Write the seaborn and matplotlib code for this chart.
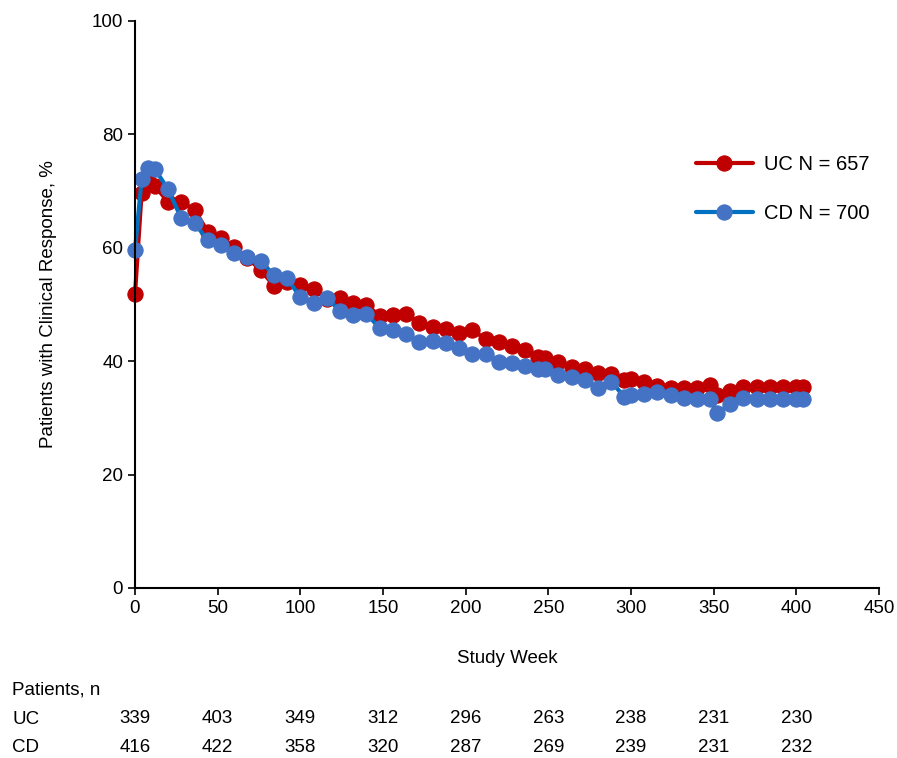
import numpy as np
import pandas as pd
import matplotlib
matplotlib.use("Agg")
import matplotlib.pyplot as plt
import seaborn as sns

# --- data ---
weeks_uc = [0, 4, 8, 12, 20, 28, 36, 44, 52, 60, 68, 76, 84, 92, 100, 108, 116,
            124, 132, 140, 148, 156, 164, 172, 180, 188, 196, 204, 212, 220, 228,
            236, 244, 248, 256, 264, 272, 280, 288, 296, 300, 308, 316, 324, 332,
            340, 348, 352, 360, 368, 376, 384, 392, 400, 404]
uc_pct = [51.8, 69.7, 71.8, 70.9, 68.1, 68.1, 66.7, 62.8, 61.7, 60.2, 58.2, 56.1,
          53.3, 54.0, 53.4, 52.7, 51.0, 51.1, 50.2, 49.9, 48.0, 48.1, 48.3, 46.8,
          46.0, 45.6, 44.9, 45.5, 43.9, 43.4, 42.6, 42.0, 40.8, 40.5, 39.9, 38.9,
          38.6, 38.0, 37.7, 36.6, 36.8, 36.4, 35.6, 35.2, 35.2, 35.2, 35.8, 34.0,
          34.8, 35.5, 35.5, 35.5, 35.5, 35.5, 35.5]

weeks_cd = [0, 4, 8, 12, 20, 28, 36, 44, 52, 60, 68, 76, 84, 92, 100, 108, 116,
            124, 132, 140, 148, 156, 164, 172, 180, 188, 196, 204, 212, 220, 228,
            236, 244, 248, 256, 264, 272, 280, 288, 296, 300, 308, 316, 324, 332,
            340, 348, 352, 360, 368, 376, 384, 392, 400, 404]
cd_pct = [59.6, 72.1, 74.0, 73.9, 70.3, 65.2, 64.4, 61.3, 60.5, 59.0, 58.3, 57.6,
          55.2, 54.6, 51.3, 50.3, 51.2, 48.9, 48.1, 48.4, 45.8, 45.5, 44.8, 43.3,
          43.5, 43.2, 42.3, 41.3, 41.3, 39.9, 39.6, 39.2, 38.7, 38.7, 37.6, 37.2,
          36.6, 35.2, 36.4, 33.7, 34.1, 34.3, 34.6, 34.0, 33.5, 33.3, 33.3, 30.8,
          32.5, 33.5, 33.3, 33.3, 33.3, 33.3, 33.3]

risk_weeks = [0, 50, 100, 150, 200, 250, 300, 350, 400]
uc_n = [339, 403, 349, 312, 296, 263, 238, 231, 230]
cd_n = [416, 422, 358, 320, 287, 269, 239, 231, 232]

uc_df = pd.DataFrame({"week": weeks_uc, "pct": uc_pct})
cd_df = pd.DataFrame({"week": weeks_cd, "pct": cd_pct})

# --- style ---
sns.set_style("ticks")
plt.rcParams["font.family"] = ["Liberation Sans", "DejaVu Sans"]
plt.rcParams["text.color"] = "black"
plt.rcParams["axes.labelcolor"] = "black"
plt.rcParams["xtick.color"] = "black"
plt.rcParams["ytick.color"] = "black"
FS = 13.5

fig = plt.figure(figsize=(8.97, 7.58), dpi=100)
ax = fig.add_axes([0.1505, 0.2243, 0.8295, 0.748])

sns.lineplot(data=uc_df, x="week", y="pct", ax=ax, color="#C00000", lw=3,
             marker="o", markersize=11, markerfacecolor="#C00000",
             markeredgecolor="#C00000", label="UC N = 657", clip_on=False)
sns.lineplot(data=cd_df, x="week", y="pct", ax=ax, color="#0070C0", lw=3,
             marker="o", markersize=11, markerfacecolor="#4472C4",
             markeredgecolor="#4472C4", label="CD N = 700", clip_on=False)

ax.set_xlim(0, 450)
ax.set_ylim(0, 100)
ax.set_xticks(range(0, 451, 50))
ax.set_yticks(range(0, 101, 20))
ax.tick_params(labelsize=FS, width=1.2, length=5, color="black")
for s in ["left", "bottom"]:
    ax.spines[s].set_color("black")
    ax.spines[s].set_linewidth(1.5)
sns.despine(ax=ax)
ax.set_xlabel("Study Week", fontsize=FS, labelpad=24)
ax.set_ylabel("Patients with Clinical Response, %", fontsize=FS, labelpad=25)

leg = ax.legend(loc="upper left", bbox_to_anchor=(0.73, 0.795), frameon=False,
                fontsize=FS + 1, handlelength=2.8, labelspacing=1.45,
                handletextpad=0.55)

# --- patients at risk table ---
tr = ax.get_xaxis_transform()
fig.text(12 / 897, 1 - 690 / 758, "Patients, n", fontsize=FS, va="center")
fig.text(12 / 897, 1 - 719 / 758, "UC", fontsize=FS, va="center")
fig.text(12 / 897, 1 - 748 / 758, "CD", fontsize=FS, va="center")
for w, u, c in zip(risk_weeks, uc_n, cd_n):
    ax.text(w, (588 - 719) / 567, str(u), transform=tr, ha="center",
            va="center", fontsize=FS, clip_on=False)
    ax.text(w, (588 - 748) / 567, str(c), transform=tr, ha="center",
            va="center", fontsize=FS, clip_on=False)

fig.savefig("out.png", dpi=100)
